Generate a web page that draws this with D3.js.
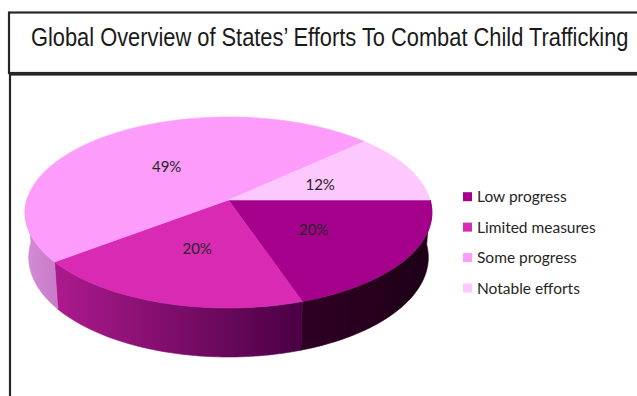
<!DOCTYPE html>
<html>
<head>
<meta charset="utf-8">
<script src="https://cdn.jsdelivr.net/npm/d3@7"></script>
<style>
  html, body { margin: 0; padding: 0; background: #ffffff; }
  svg { display: block; }
</style>
</head>
<body>
<svg id="chart" width="637" height="396"></svg>
<script>
// ---- data ----
const title = "Global Overview of States\u2019 Efforts To Combat Child Trafficking";
const categories = ["Low progress", "Limited measures", "Some progress", "Notable efforts"];
const values = [20, 20, 49, 12];
const labels = ["20%", "20%", "49%", "12%"];
const topColors = ["#a5008c", "#d82ab2", "#fd9cfb", "#fdc8fd"];
const wallStart = ["#2e0024", "#ad1a8e", "#d68cd6", "#e6b0e6"];
const wallEnd = ["#1e0016", "#4a0044", "#c97cc9", "#e6b0e6"];

// ---- setup ----
const svg = d3.select("#chart");
const W = 637, H = 396;
svg.append("rect").attr("width", W).attr("height", H).attr("fill", "#ffffff");

// title box and chart box
svg.append("rect").attr("x", 9).attr("y", 12.5).attr("width", 700).attr("height", 60.5)
  .attr("fill", "none").attr("stroke", "#262626").attr("stroke-width", 2.2);
svg.append("rect").attr("x", 10).attr("y", 74.5).attr("width", 700).attr("height", 400)
  .attr("fill", "none").attr("stroke", "#262626").attr("stroke-width", 2.2);

// title: condensed by horizontal scaling to the reference width
const titleG = svg.append("g");
const titleT = titleG.append("text").attr("x", 0).attr("y", 0)
  .attr("font-family", "'Liberation Sans Narrow', 'Liberation Sans', Arial, sans-serif")
  .attr("font-size", 26.5).attr("fill", "#1a1a1a")
  .text(title);
const natural = titleT.node().getComputedTextLength();
const sx = Math.min(1, 598 / natural);
titleG.attr("transform", `translate(31,45.5) scale(${sx},1)`);

// ---- 3D perspective projection ----
const X0 = 228.5, Y0 = 200, F = 1363, D = 6.76;
const sinA = 0.4655, cosA = Math.sqrt(1 - sinA * sinA);
const depthH = 0.254;
function proj(x, y, z) {
  const dep = D - y * sinA + z * cosA;
  const up = y * cosA + z * sinA;
  return [X0 + F * x / dep, Y0 - F * up / dep];
}
function pt(theta, r, y) { return proj(r * Math.cos(theta), y, r * Math.sin(theta)); }

// d3 pie angles (clockwise from 12 o'clock) -> theta (counter-clockwise from 3 o'clock)
const pie = d3.pie().sort(null).startAngle(Math.PI / 2).endAngle(Math.PI / 2 + 2 * Math.PI);
const arcs = pie(values);
const toTheta = a => Math.PI / 2 - a;

const line = d3.line();
const defs = svg.append("defs");
const gWalls = svg.append("g");
const gTops = svg.append("g");
const gLabels = svg.append("g");

arcs.forEach((d, i) => {
  const t0 = toTheta(d.startAngle), t1 = toTheta(d.endAngle); // t0 > t1
  const lo = Math.max(t1, -Math.PI - 0.02), hi = Math.min(t0, 0.02);
  if (hi > lo) {
    const n = 60;
    const topPts = d3.range(n + 1).map(k => pt(hi - (hi - lo) * k / n, 1, 0));
    const botPts = d3.range(n + 1).map(k => pt(lo + (hi - lo) * k / n, 1, -depthH));
    const x1 = d3.min(topPts, p => p[0]), x2 = d3.max(topPts, p => p[0]);
    const gid = "wg" + i;
    const grad = defs.append("linearGradient").attr("id", gid)
      .attr("gradientUnits", "userSpaceOnUse")
      .attr("x1", x1).attr("x2", x2).attr("y1", 0).attr("y2", 0);
    grad.append("stop").attr("offset", "0%").attr("stop-color", wallStart[i]);
    grad.append("stop").attr("offset", "100%").attr("stop-color", wallEnd[i]);
    gWalls.append("path")
      .attr("d", line(topPts.concat(botPts)) + "Z")
      .attr("fill", `url(#${gid})`)
      .attr("stroke", `url(#${gid})`).attr("stroke-width", 0.6);
  }
  // top face
  const n = Math.max(8, Math.round((t0 - t1) * 40));
  const pts = [proj(0, 0, 0)].concat(d3.range(n + 1).map(k => pt(t0 - (t0 - t1) * k / n, 1, 0)));
  gTops.append("path")
    .attr("d", line(pts) + "Z")
    .attr("fill", topColors[i])
    .attr("stroke", topColors[i]).attr("stroke-width", 0.6);
  // label
  const mid = (t0 + t1) / 2;
  const lp = pt(mid, 0.5, 0);
  gLabels.append("text")
    .attr("x", lp[0]).attr("y", lp[1] + 6.5)
    .attr("text-anchor", "middle")
    .attr("font-family", "Lato, Carlito, sans-serif")
    .attr("font-size", 15).attr("fill", "#262626")
    .text(labels[i]);
});

// ---- legend ----
const legendY = d3.scalePoint().domain(categories).range([196.7, 288]);
const lg = svg.append("g");
categories.forEach((c, i) => {
  const y = legendY(c);
  lg.append("rect").attr("x", 463).attr("y", y - 4.5).attr("width", 9).attr("height", 9)
    .attr("fill", topColors[i]);
  lg.append("text").attr("x", 477).attr("y", y + 5.5)
    .attr("font-family", "Lato, Carlito, sans-serif")
    .attr("font-size", 15.5).attr("fill", "#262626")
    .text(c);
});
</script>
</body>
</html>
